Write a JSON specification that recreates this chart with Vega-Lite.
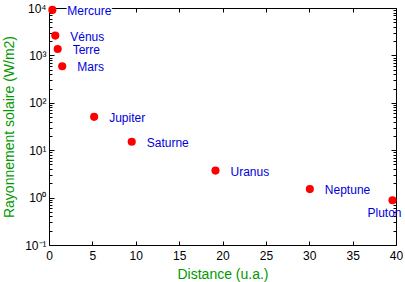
{
  "$schema": "https://vega.github.io/schema/vega-lite/v6.json",
  "width": 347,
  "height": 237,
  "autosize": {"type": "none"},
  "padding": {"left": 49, "top": 8, "right": 9, "bottom": 37},
  "background": "white",
  "config": {
    "view": {"stroke": null},
    "font": "Liberation Sans",
    "axis": {
      "grid": false,
      "domainColor": "black",
      "tickColor": "black",
      "labelColor": "black",
      "labelFont": "Liberation Sans",
      "labelFontSize": 12,
      "titleFont": "Liberation Sans",
      "titleFontSize": 14,
      "titleFontWeight": "normal",
      "titleColor": "#009900",
      "labelOverlap": false,
      "labelFlush": false,
      "labelBound": false
    }
  },
  "data": {
    "values": [
      {"name": "Mercure", "dist": 0.387, "flux": 9126},
      {"name": "Vénus", "dist": 0.723, "flux": 2614},
      {"name": "Terre", "dist": 1.0, "flux": 1367},
      {"name": "Mars", "dist": 1.524, "flux": 589},
      {"name": "Jupiter", "dist": 5.203, "flux": 50.5},
      {"name": "Saturne", "dist": 9.537, "flux": 15.04},
      {"name": "Uranus", "dist": 19.19, "flux": 3.71},
      {"name": "Neptune", "dist": 30.07, "flux": 1.51},
      {"name": "Pluton", "dist": 39.6, "flux": 0.88}
    ]
  },
  "resolve": {"axis": {"x": "independent", "y": "independent"}},
  "layer": [
    {
      "mark": {"type": "circle", "color": "#ff0000", "size": 66, "opacity": 1},
      "encoding": {
        "x": {
          "field": "dist", "type": "quantitative",
          "scale": {"domain": [0, 40], "nice": false, "zero": false},
          "axis": {
            "orient": "bottom",
            "title": "Distance (u.a.)",
            "values": [0, 5, 10, 15, 20, 25, 30, 35, 40],
            "tickSize": -4,
            "labelPadding": 9,
            "titlePadding": 6
          }
        },
        "y": {
          "field": "flux", "type": "quantitative",
          "scale": {"type": "log", "domain": [0.1, 10000], "nice": false},
          "axis": {
            "orient": "left",
            "title": "Rayonnement solaire (W/m2)",
            "values": [0.1,0.2,0.3,0.4,0.5,0.6,0.7,0.8,0.9,1,2,3,4,5,6,7,8,9,10,20,30,40,50,60,70,80,90,100,200,300,400,500,600,700,800,900,1000,2000,3000,4000,5000,6000,7000,8000,9000,10000],
            "labelExpr": "datum.value == 0.1 ? '10⁻¹' : datum.value == 1 ? '10⁰' : datum.value == 10 ? '10¹' : datum.value == 100 ? '10²' : datum.value == 1000 ? '10³' : datum.value == 10000 ? '10⁴' : ''",
            "tickSize": {"condition": {"test": "datum.value == 0.1 || datum.value == 1 || datum.value == 10 || datum.value == 100 || datum.value == 1000 || datum.value == 10000", "value": -5}, "value": -3},
            "labelPadding": 8,
            "titlePadding": 8
          }
        }
      }
    },
    {
      "transform": [{"filter": "datum.name != 'Pluton'"}],
      "mark": {"type": "text", "align": "left", "baseline": "middle", "dx": 15, "dy": 1, "fontSize": 12, "font": "Liberation Sans", "color": "white", "stroke": "white", "strokeWidth": 3},
      "encoding": {
        "x": {"field": "dist", "type": "quantitative", "axis": null},
        "y": {"field": "flux", "type": "quantitative", "axis": null},
        "text": {"field": "name"}
      }
    },
    {
      "transform": [{"filter": "datum.name != 'Pluton'"}],
      "mark": {"type": "text", "align": "left", "baseline": "middle", "dx": 15, "dy": 1, "fontSize": 12, "font": "Liberation Sans", "color": "#0000dd"},
      "encoding": {
        "x": {"field": "dist", "type": "quantitative", "axis": null},
        "y": {"field": "flux", "type": "quantitative", "axis": null},
        "text": {"field": "name"}
      }
    },
    {
      "transform": [{"filter": "datum.name == 'Pluton'"}],
      "mark": {"type": "text", "align": "center", "baseline": "middle", "dx": -8, "dy": 13, "fontSize": 12, "font": "Liberation Sans", "color": "#0000dd"},
      "encoding": {
        "x": {"field": "dist", "type": "quantitative", "axis": null},
        "y": {"field": "flux", "type": "quantitative", "axis": null},
        "text": {"field": "name"}
      }
    },
    {
      "mark": {"type": "circle", "opacity": 0},
      "encoding": {
        "x": {
          "field": "dist", "type": "quantitative",
          "axis": {"orient": "top", "title": null, "labels": false, "values": [0, 5, 10, 15, 20, 25, 30, 35, 40], "tickSize": -4}
        },
        "y": {
          "field": "flux", "type": "quantitative",
          "axis": {
            "orient": "right", "title": null, "labels": false,
            "values": [0.1,0.2,0.3,0.4,0.5,0.6,0.7,0.8,0.9,1,2,3,4,5,6,7,8,9,10,20,30,40,50,60,70,80,90,100,200,300,400,500,600,700,800,900,1000,2000,3000,4000,5000,6000,7000,8000,9000,10000],
            "tickSize": {"condition": {"test": "datum.value == 0.1 || datum.value == 1 || datum.value == 10 || datum.value == 100 || datum.value == 1000 || datum.value == 10000", "value": -5}, "value": -3}
          }
        }
      }
    }
  ]
}
